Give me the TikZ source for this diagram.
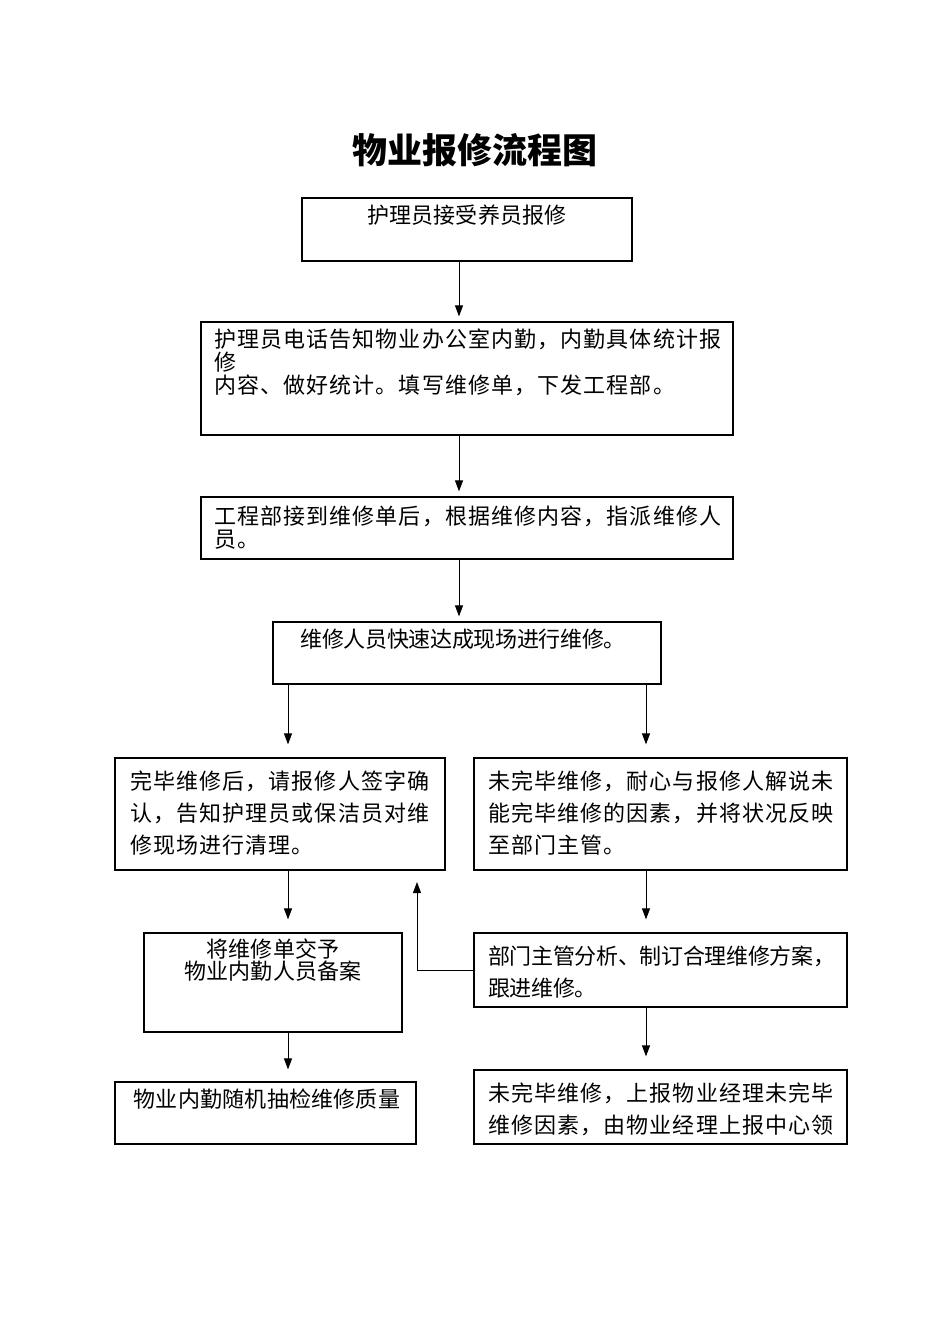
\documentclass[tikz,border=0pt]{standalone}
\usepackage{fontspec}
\setmainfont{Noto Sans CJK SC}
\newfontfamily\bodyfont{Noto Sans CJK SC}[LetterSpace=5]
\newfontfamily\tightfont{Noto Sans CJK SC}[LetterSpace=-1.5]
\newfontfamily\midfont{Noto Sans CJK SC}[LetterSpace=1]
\usetikzlibrary{arrows.meta}
\begin{document}
\begin{tikzpicture}[x=1pt,y=-1pt,
  box/.style={draw=black,line width=1.2pt,rectangle,inner sep=0pt,fill=none},
  txt/.style={inner sep=0pt,align=left,anchor=north west,font=\bodyfont\fontsize{22}{32}\selectfont},
  txtc/.style={inner sep=0pt,align=center,anchor=north,font=\midfont\fontsize{22}{32}\selectfont},
  arr/.style={line width=1pt,-{Triangle[length=11pt,width=8pt]}}]
\path[use as bounding box,fill=white] (0,0) rectangle (950,1344);
% title
\node[inner sep=0pt,font=\bfseries\fontsize{35}{40}\selectfont] (title) at (475,150) {物业报修流程图};
% boxes
\node[box,minimum width=330pt,minimum height=63pt] (b1) at (467,229.5) {};
\node[box,minimum width=532pt,minimum height=113pt] (b2) at (467,378.5) {};
\node[box,minimum width=532pt,minimum height=62pt] (b3) at (467,528) {};
\node[box,minimum width=388pt,minimum height=62pt] (b4) at (467,653) {};
\node[box,minimum width=330pt,minimum height=112pt] (b5l) at (280,814) {};
\node[box,minimum width=373pt,minimum height=112pt] (b5r) at (660.5,814) {};
\node[box,minimum width=258pt,minimum height=99pt] (b6l) at (273,982.5) {};
\node[box,minimum width=373pt,minimum height=74pt] (b6r) at (660.5,970) {};
\node[box,minimum width=301pt,minimum height=62pt] (b7l) at (265.5,1113) {};
\node[box,minimum width=373pt,minimum height=74pt] (b7r) at (660.5,1107) {};
% texts
\node[txtc] (t1) at (467,205) {护理员接受养员报修};
\node[txt,font=\bodyfont\fontsize{22}{23}\selectfont] (t2) at (214,329) {护理员电话告知物业办公室内勤，内勤具体统计报\\修\\内容、做好统计。填写维修单，下发工程部。};
\node[txt,font=\bodyfont\fontsize{22}{23}\selectfont] (t3) at (214,506) {工程部接到维修单后，根据维修内容，指派维修人\\员。};
\node[txtc,font=\tightfont\fontsize{22}{32}\selectfont] (t4) at (463,629) {维修人员快速达成现场进行维修。};
\node[txt] (t5l) at (130,771) {完毕维修后，请报修人签字确\\认，告知护理员或保洁员对维\\修现场进行清理。};
\node[txt] (t5r) at (488,771) {未完毕维修，耐心与报修人解说未\\能完毕维修的因素，并将状况反映\\至部门主管。};
\node[txtc,font=\midfont\fontsize{22}{22}\selectfont] (t6l) at (273,939) {将维修单交予\\物业内勤人员备案};
\node[txt,font=\tightfont\fontsize{22}{32}\selectfont] (t6r) at (488,946) {部门主管分析、制订合理维修方案，\\跟进维修。};
\node[txtc] (t7l) at (267,1089) {物业内勤随机抽检维修质量};
\node[txt] (t7r) at (488,1083) {未完毕维修，上报物业经理未完毕\\维修因素，由物业经理上报中心领};
% connectors
\coordinate (ax) at (459,0);
\coordinate (lx) at (288,0);
\coordinate (rx) at (646,0);
\coordinate (fb) at (417,882);
\draw[arr,shorten >=5pt] (ax |- b1.south) -- (ax |- b2.north);
\draw[arr,shorten >=5pt] (ax |- b2.south) -- (ax |- b3.north);
\draw[arr,shorten >=5pt] (ax |- b3.south) -- (ax |- b4.north);
\draw[arr,shorten >=13pt] (lx |- b4.south) -- (lx |- b5l.north);
\draw[arr,shorten >=13pt] (rx |- b4.south) -- (rx |- b5r.north);
\draw[arr,shorten >=13pt] (lx |- b5l.south) -- (lx |- b6l.north);
\draw[arr,shorten >=13pt] (rx |- b5r.south) -- (rx |- b6r.north);
\draw[arr,shorten >=12pt] (lx |- b6l.south) -- (lx |- b7l.north);
\draw[arr,shorten >=13pt] (rx |- b6r.south) -- (rx |- b7r.north);
\draw[arr] (b6r.west) -| (fb);
\end{tikzpicture}
\end{document}
